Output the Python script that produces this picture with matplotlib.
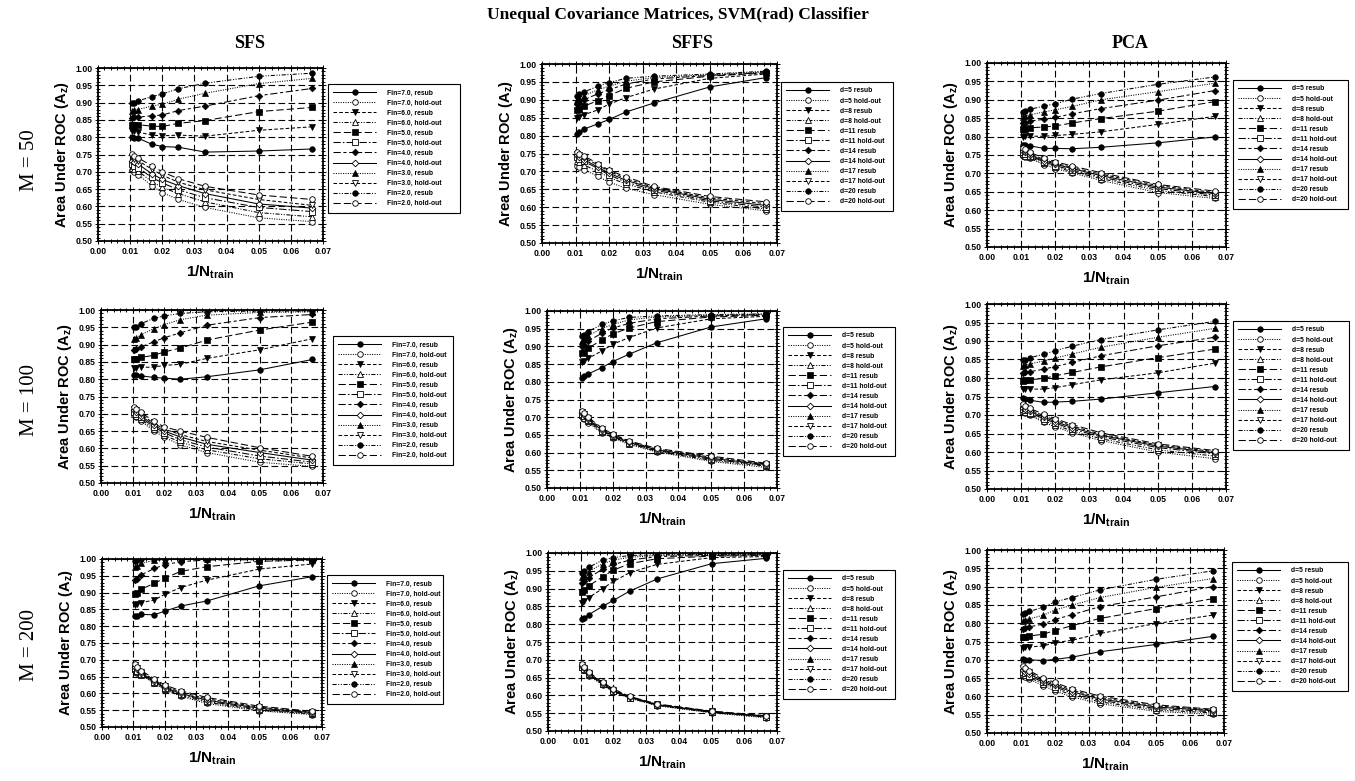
import numpy as np
import matplotlib
matplotlib.use("Agg")
import matplotlib.pyplot as plt
from matplotlib.ticker import MultipleLocator, AutoMinorLocator

plt.rcParams['font.family'] = ['Liberation Sans', 'DejaVu Sans']
plt.rcParams['mathtext.fontset'] = 'custom'
plt.rcParams['mathtext.rm'] = 'Liberation Sans'
plt.rcParams['mathtext.bf'] = 'Liberation Sans:bold'
plt.rcParams['mathtext.it'] = 'Liberation Sans:italic'

# training sample sizes (x axis is 1/N_train)
n_train = [95, 90, 80, 60, 50, 40, 30, 20, 15]
fin_vals = ["7.0", "6.0", "5.0", "4.0", "3.0", "2.0"]
d_vals = [5, 8, 11, 14, 17, 20]
methods = ["SFS", "SFFS", "PCA"]
sample_sizes = [50, 100, 200]

# resub: one row per setting (Fin=7..2 or d=5..20), one value per N_train
# hold: one row per N_train, values from the top curve to the bottom curve
sfs50_resub = [
    [0.801, 0.798, 0.797, 0.780, 0.773, 0.771, 0.757, 0.760, 0.766],
    [0.818, 0.817, 0.815, 0.806, 0.804, 0.806, 0.803, 0.820, 0.830],
    [0.836, 0.836, 0.836, 0.832, 0.831, 0.840, 0.848, 0.874, 0.886],
    [0.856, 0.857, 0.858, 0.862, 0.864, 0.877, 0.890, 0.920, 0.941],
    [0.877, 0.878, 0.880, 0.890, 0.895, 0.910, 0.927, 0.955, 0.970],
    [0.898, 0.900, 0.905, 0.917, 0.925, 0.940, 0.956, 0.976, 0.985],
]
sfs50_hold = [
    [0.752, 0.742, 0.732, 0.722, 0.712, 0.705],
    [0.745, 0.737, 0.728, 0.718, 0.708, 0.700],
    [0.740, 0.732, 0.722, 0.712, 0.702, 0.692],
    [0.718, 0.708, 0.695, 0.684, 0.672, 0.660],
    [0.700, 0.690, 0.678, 0.668, 0.655, 0.640],
    [0.680, 0.670, 0.660, 0.648, 0.637, 0.620],
    [0.658, 0.648, 0.637, 0.625, 0.613, 0.597],
    [0.633, 0.620, 0.607, 0.597, 0.582, 0.567],
    [0.620, 0.603, 0.595, 0.585, 0.570, 0.556],
]
sfs100_resub = [
    [0.812, 0.811, 0.810, 0.805, 0.803, 0.800, 0.807, 0.827, 0.857],
    [0.832, 0.832, 0.834, 0.835, 0.840, 0.843, 0.860, 0.885, 0.917],
    [0.857, 0.858, 0.863, 0.869, 0.879, 0.890, 0.913, 0.942, 0.965],
    [0.885, 0.887, 0.893, 0.908, 0.920, 0.934, 0.956, 0.978, 0.987],
    [0.917, 0.918, 0.928, 0.946, 0.958, 0.972, 0.985, 0.993, 0.995],
    [0.950, 0.952, 0.960, 0.976, 0.983, 0.990, 0.995, 0.997, 0.997],
]
sfs100_hold = [
    [0.720, 0.715, 0.710, 0.705, 0.700, 0.698],
    [0.715, 0.710, 0.705, 0.700, 0.695, 0.692],
    [0.705, 0.700, 0.695, 0.690, 0.685, 0.680],
    [0.678, 0.672, 0.667, 0.662, 0.656, 0.650],
    [0.662, 0.656, 0.650, 0.645, 0.638, 0.632],
    [0.650, 0.640, 0.633, 0.625, 0.618, 0.610],
    [0.632, 0.620, 0.612, 0.604, 0.596, 0.588],
    [0.602, 0.595, 0.588, 0.578, 0.570, 0.560],
    [0.577, 0.572, 0.566, 0.560, 0.555, 0.548],
]
sfs200_resub = [
    [0.830, 0.831, 0.835, 0.834, 0.845, 0.860, 0.875, 0.920, 0.947],
    [0.862, 0.865, 0.870, 0.878, 0.895, 0.915, 0.937, 0.970, 0.985],
    [0.897, 0.900, 0.910, 0.928, 0.943, 0.963, 0.977, 0.993, 0.997],
    [0.937, 0.940, 0.953, 0.972, 0.983, 0.992, 0.997, 0.998, 0.998],
    [0.977, 0.980, 0.987, 0.996, 0.998, 0.999, 0.999, 0.999, 0.999],
    [0.995, 0.997, 0.999, 1.000, 1.000, 1.000, 1.000, 1.000, 1.000],
]
sfs200_hold = [
    [0.688, 0.684, 0.680, 0.676, 0.672, 0.668],
    [0.680, 0.676, 0.672, 0.668, 0.664, 0.660],
    [0.668, 0.664, 0.660, 0.657, 0.654, 0.655],
    [0.643, 0.640, 0.637, 0.635, 0.632, 0.630],
    [0.625, 0.621, 0.618, 0.615, 0.612, 0.610],
    [0.608, 0.604, 0.600, 0.597, 0.594, 0.592],
    [0.588, 0.584, 0.580, 0.577, 0.574, 0.570],
    [0.562, 0.559, 0.556, 0.553, 0.550, 0.548],
    [0.547, 0.545, 0.543, 0.541, 0.539, 0.537],
]
sffs50_resub = [
    [0.805, 0.810, 0.818, 0.833, 0.845, 0.866, 0.891, 0.936, 0.962],
    [0.848, 0.852, 0.858, 0.872, 0.888, 0.906, 0.930, 0.960, 0.972],
    [0.872, 0.875, 0.882, 0.898, 0.912, 0.932, 0.950, 0.966, 0.975],
    [0.888, 0.892, 0.900, 0.917, 0.928, 0.944, 0.958, 0.968, 0.976],
    [0.900, 0.905, 0.912, 0.928, 0.938, 0.952, 0.962, 0.970, 0.978],
    [0.912, 0.915, 0.922, 0.938, 0.948, 0.960, 0.966, 0.972, 0.980],
]
sffs50_hold = [
    [0.755, 0.750, 0.745, 0.740, 0.730, 0.715],
    [0.750, 0.745, 0.740, 0.735, 0.725, 0.712],
    [0.743, 0.738, 0.733, 0.728, 0.718, 0.705],
    [0.722, 0.718, 0.712, 0.708, 0.700, 0.686],
    [0.703, 0.700, 0.695, 0.690, 0.683, 0.670],
    [0.685, 0.680, 0.675, 0.670, 0.665, 0.653],
    [0.658, 0.655, 0.652, 0.648, 0.643, 0.635],
    [0.630, 0.626, 0.622, 0.618, 0.614, 0.608],
    [0.615, 0.610, 0.605, 0.600, 0.595, 0.590],
]
sffs100_resub = [
    [0.810, 0.815, 0.822, 0.840, 0.857, 0.878, 0.910, 0.955, 0.978],
    [0.855, 0.858, 0.866, 0.887, 0.906, 0.925, 0.952, 0.978, 0.985],
    [0.882, 0.885, 0.895, 0.918, 0.935, 0.952, 0.970, 0.983, 0.988],
    [0.900, 0.905, 0.915, 0.937, 0.952, 0.965, 0.978, 0.986, 0.990],
    [0.915, 0.920, 0.930, 0.950, 0.962, 0.975, 0.983, 0.988, 0.991],
    [0.928, 0.932, 0.942, 0.962, 0.972, 0.982, 0.986, 0.990, 0.992],
]
sffs100_hold = [
    [0.718, 0.715, 0.712, 0.708, 0.705, 0.700],
    [0.712, 0.708, 0.705, 0.702, 0.698, 0.694],
    [0.700, 0.697, 0.694, 0.691, 0.688, 0.685],
    [0.670, 0.667, 0.664, 0.661, 0.658, 0.655],
    [0.652, 0.650, 0.648, 0.646, 0.644, 0.642],
    [0.633, 0.631, 0.629, 0.627, 0.625, 0.623],
    [0.612, 0.610, 0.608, 0.606, 0.604, 0.602],
    [0.590, 0.587, 0.584, 0.581, 0.578, 0.575],
    [0.570, 0.568, 0.566, 0.564, 0.562, 0.558],
]
sffs200_resub = [
    [0.815, 0.818, 0.827, 0.850, 0.867, 0.893, 0.927, 0.970, 0.985],
    [0.860, 0.866, 0.875, 0.900, 0.920, 0.945, 0.968, 0.987, 0.990],
    [0.890, 0.895, 0.908, 0.933, 0.952, 0.970, 0.984, 0.991, 0.993],
    [0.915, 0.920, 0.930, 0.955, 0.968, 0.980, 0.990, 0.993, 0.995],
    [0.932, 0.938, 0.948, 0.970, 0.980, 0.988, 0.993, 0.995, 0.996],
    [0.945, 0.950, 0.960, 0.980, 0.987, 0.993, 0.995, 0.996, 0.997],
]
sffs200_hold = [
    [0.688, 0.685, 0.683, 0.681, 0.679, 0.677],
    [0.680, 0.678, 0.676, 0.674, 0.672, 0.670],
    [0.665, 0.663, 0.661, 0.659, 0.657, 0.655],
    [0.637, 0.635, 0.633, 0.632, 0.631, 0.630],
    [0.618, 0.616, 0.614, 0.612, 0.611, 0.610],
    [0.597, 0.596, 0.595, 0.594, 0.593, 0.592],
    [0.576, 0.575, 0.574, 0.573, 0.572, 0.571],
    [0.556, 0.555, 0.554, 0.553, 0.552, 0.551],
    [0.543, 0.542, 0.541, 0.540, 0.539, 0.537],
]
pca50_resub = [
    [0.776, 0.776, 0.775, 0.768, 0.768, 0.767, 0.771, 0.783, 0.799],
    [0.800, 0.801, 0.801, 0.801, 0.803, 0.806, 0.813, 0.833, 0.855],
    [0.820, 0.821, 0.824, 0.826, 0.829, 0.837, 0.849, 0.869, 0.895],
    [0.836, 0.838, 0.842, 0.847, 0.852, 0.862, 0.876, 0.899, 0.925],
    [0.853, 0.856, 0.859, 0.867, 0.873, 0.882, 0.900, 0.922, 0.945],
    [0.866, 0.869, 0.874, 0.883, 0.889, 0.902, 0.917, 0.942, 0.962],
]
pca50_hold = [
    [0.770, 0.765, 0.762, 0.758, 0.752, 0.748],
    [0.765, 0.761, 0.757, 0.753, 0.748, 0.745],
    [0.757, 0.753, 0.750, 0.747, 0.744, 0.741],
    [0.742, 0.738, 0.735, 0.732, 0.728, 0.724],
    [0.732, 0.728, 0.725, 0.721, 0.717, 0.713],
    [0.720, 0.716, 0.713, 0.709, 0.705, 0.701],
    [0.702, 0.698, 0.694, 0.690, 0.686, 0.681],
    [0.670, 0.667, 0.663, 0.659, 0.654, 0.648],
    [0.652, 0.648, 0.645, 0.641, 0.637, 0.632],
]
pca100_resub = [
    [0.745, 0.742, 0.740, 0.734, 0.735, 0.737, 0.743, 0.760, 0.777],
    [0.770, 0.770, 0.770, 0.770, 0.774, 0.782, 0.795, 0.814, 0.840],
    [0.793, 0.794, 0.795, 0.799, 0.806, 0.815, 0.830, 0.855, 0.878],
    [0.813, 0.815, 0.817, 0.824, 0.831, 0.842, 0.860, 0.887, 0.910],
    [0.832, 0.835, 0.838, 0.846, 0.854, 0.865, 0.883, 0.910, 0.934],
    [0.848, 0.850, 0.855, 0.864, 0.874, 0.886, 0.904, 0.930, 0.953],
]
pca100_hold = [
    [0.730, 0.725, 0.720, 0.716, 0.712, 0.708],
    [0.725, 0.721, 0.717, 0.713, 0.709, 0.705],
    [0.718, 0.714, 0.710, 0.706, 0.702, 0.699],
    [0.702, 0.698, 0.694, 0.690, 0.685, 0.680],
    [0.690, 0.686, 0.682, 0.678, 0.673, 0.668],
    [0.674, 0.670, 0.666, 0.662, 0.657, 0.652],
    [0.652, 0.648, 0.645, 0.641, 0.636, 0.631],
    [0.622, 0.619, 0.616, 0.612, 0.606, 0.600],
    [0.604, 0.601, 0.598, 0.595, 0.589, 0.582],
]
pca200_resub = [
    [0.703, 0.700, 0.700, 0.698, 0.701, 0.707, 0.722, 0.742, 0.764],
    [0.733, 0.734, 0.735, 0.738, 0.747, 0.753, 0.772, 0.799, 0.822],
    [0.762, 0.763, 0.765, 0.770, 0.780, 0.793, 0.813, 0.840, 0.867],
    [0.785, 0.787, 0.790, 0.798, 0.810, 0.823, 0.845, 0.872, 0.900],
    [0.806, 0.808, 0.812, 0.822, 0.836, 0.849, 0.870, 0.898, 0.922],
    [0.826, 0.828, 0.832, 0.844, 0.858, 0.870, 0.891, 0.920, 0.943],
]
pca200_hold = [
    [0.682, 0.678, 0.672, 0.668, 0.662, 0.657],
    [0.677, 0.672, 0.668, 0.663, 0.658, 0.653],
    [0.670, 0.666, 0.661, 0.657, 0.652, 0.647],
    [0.650, 0.646, 0.642, 0.638, 0.634, 0.629],
    [0.638, 0.634, 0.630, 0.626, 0.621, 0.615],
    [0.621, 0.617, 0.613, 0.609, 0.604, 0.599],
    [0.601, 0.597, 0.593, 0.589, 0.585, 0.580],
    [0.577, 0.574, 0.571, 0.567, 0.563, 0.559],
    [0.565, 0.563, 0.561, 0.558, 0.555, 0.551],
]

panels = [
    [(sfs50_resub, sfs50_hold), (sffs50_resub, sffs50_hold), (pca50_resub, pca50_hold)],
    [(sfs100_resub, sfs100_hold), (sffs100_resub, sffs100_hold), (pca100_resub, pca100_hold)],
    [(sfs200_resub, sfs200_hold), (sffs200_resub, sffs200_hold), (pca200_resub, pca200_hold)],
]

W, H = 1355, 781
# axes boxes in pixels: left, top, right, bottom
ax_px = [
    [(98, 68, 323, 241), (542, 64, 777, 243), (987, 63, 1226, 247)],
    [(101, 310, 323, 483), (547, 311, 777, 488), (987, 304, 1226, 489)],
    [(102, 559, 322, 727), (548, 553, 777, 731), (987, 550, 1224, 733)],
]
# legend boxes in pixels: left, top, right
leg_px = [
    [(328, 84, 460), (781, 82, 893), (1233, 80, 1348)],
    [(333, 336, 453), (783, 327, 895), (1233, 321, 1349)],
    [(327, 575, 443), (783, 570, 895), (1232, 562, 1348)],
]

solid = '-'
dotted = (0, (1, 1.3))
dashed = (0, (3.5, 2))
dashdotdot = (0, (4, 1.5, 1, 1.5, 1, 1.5))
longdash = (0, (7, 3))
dashdot = (0, (7, 2, 1.5, 2))
longshort = (0, (7, 2.5, 3, 2.5))
resub_styles = [(solid, 'o'), (dashed, 'v'), (longdash, 's'),
                (longshort, 'D'), (dotted, '^'), (dashdotdot, 'o')]
hold_styles = [(dotted, 'o'), (dashdotdot, '^'), (dashdot, 's'),
               (solid, 'D'), (dashed, 'v'), (longdash, 'o')]

x = 1.0 / np.array(n_train)

fig = plt.figure(figsize=(W / 100, H / 100), dpi=100)

for r in range(3):
    for c in range(3):
        l, t, rr, b = ax_px[r][c]
        ax = fig.add_axes([l / W, 1 - b / H, (rr - l) / W, (b - t) / H])
        resub, hold = panels[r][c]
        hold_series = np.array(hold).T[::-1]
        handles, labels = [], []
        for i in range(6):
            ls, mk = resub_styles[i]
            ms = 3.4 if mk == 'D' else 4.0
            h1, = ax.plot(x, resub[i], color='black', lw=0.75, linestyle=ls,
                          marker=mk, ms=ms, mfc='black', mec='black', mew=0.5)
            ls, mk = hold_styles[i]
            ms = 3.4 if mk == 'D' else 4.0
            h2, = ax.plot(x, hold_series[i], color='black', lw=0.75, linestyle=ls,
                          marker=mk, ms=ms, mfc='white', mec='black', mew=0.6)
            handles += [h1, h2]
            if c == 0:
                labels += [f"Fin={fin_vals[i]}, resub", f"Fin={fin_vals[i]}, hold-out"]
            else:
                labels += [f"d={d_vals[i]} resub", f"d={d_vals[i]} hold-out"]

        ax.set_xlim(0, 0.07)
        ax.set_ylim(0.5, 1.0)
        ax.xaxis.set_major_locator(MultipleLocator(0.01))
        ax.yaxis.set_major_locator(MultipleLocator(0.05))
        ax.xaxis.set_minor_locator(AutoMinorLocator(5))
        ax.yaxis.set_minor_locator(AutoMinorLocator(5))
        ax.xaxis.set_major_formatter(plt.FormatStrFormatter('%.2f'))
        ax.yaxis.set_major_formatter(plt.FormatStrFormatter('%.2f'))
        ax.tick_params(which='both', direction='inout', top=True, right=True,
                       labelsize=6.2, width=0.7, pad=2)
        ax.tick_params(which='major', length=4)
        ax.tick_params(which='minor', length=2.5)
        for lab in ax.get_xticklabels() + ax.get_yticklabels():
            lab.set_fontweight('bold')
        for sp in ax.spines.values():
            sp.set_linewidth(1.3)
        ax.grid(True, which='major', color='black', lw=0.8, linestyle=(0, (6, 3)))
        ax.set_axisbelow(True)
        ax.set_ylabel(r'Area Under ROC (A$_\mathbf{z}$)', fontsize=10.5,
                      fontweight='bold', labelpad=3)
        ax.set_xlabel(r'1/N$_\mathbf{train}$', fontsize=11, fontweight='bold',
                      labelpad=6)

        ll, lt, lr = leg_px[r][c]
        leg = ax.legend(handles, labels, loc='upper left',
                        bbox_to_anchor=(ll / W, 1 - lt / H, (lr - ll) / W, 0),
                        bbox_transform=fig.transFigure, mode='expand',
                        borderaxespad=0, handlelength=6.3,
                        handletextpad=1.6, labelspacing=0.45, borderpad=0.8,
                        fancybox=False, framealpha=1, edgecolor='black',
                        prop={'weight': 'bold', 'size': 4.9})
        leg.get_frame().set_linewidth(0.8)

fig.text(0.5, 1 - 15 / H, 'Unequal Covariance Matrices, SVM(rad) Classifier',
         ha='center', va='center', fontsize=12.5, fontweight='bold',
         family='Liberation Serif')
for c, (name, xc) in enumerate(zip(methods, [250, 692, 1130])):
    fig.text(xc / W, 1 - 44 / H, name, ha='center', va='center', fontsize=13,
             fontweight='bold', family='Liberation Serif')
for m, yc in zip(sample_sizes, [160, 400, 645]):
    fig.text(30 / W, 1 - yc / H, f'M = {m}', ha='center', va='center',
             rotation=90, fontsize=15, family='Liberation Serif')

fig.savefig('out.png', dpi=100)
